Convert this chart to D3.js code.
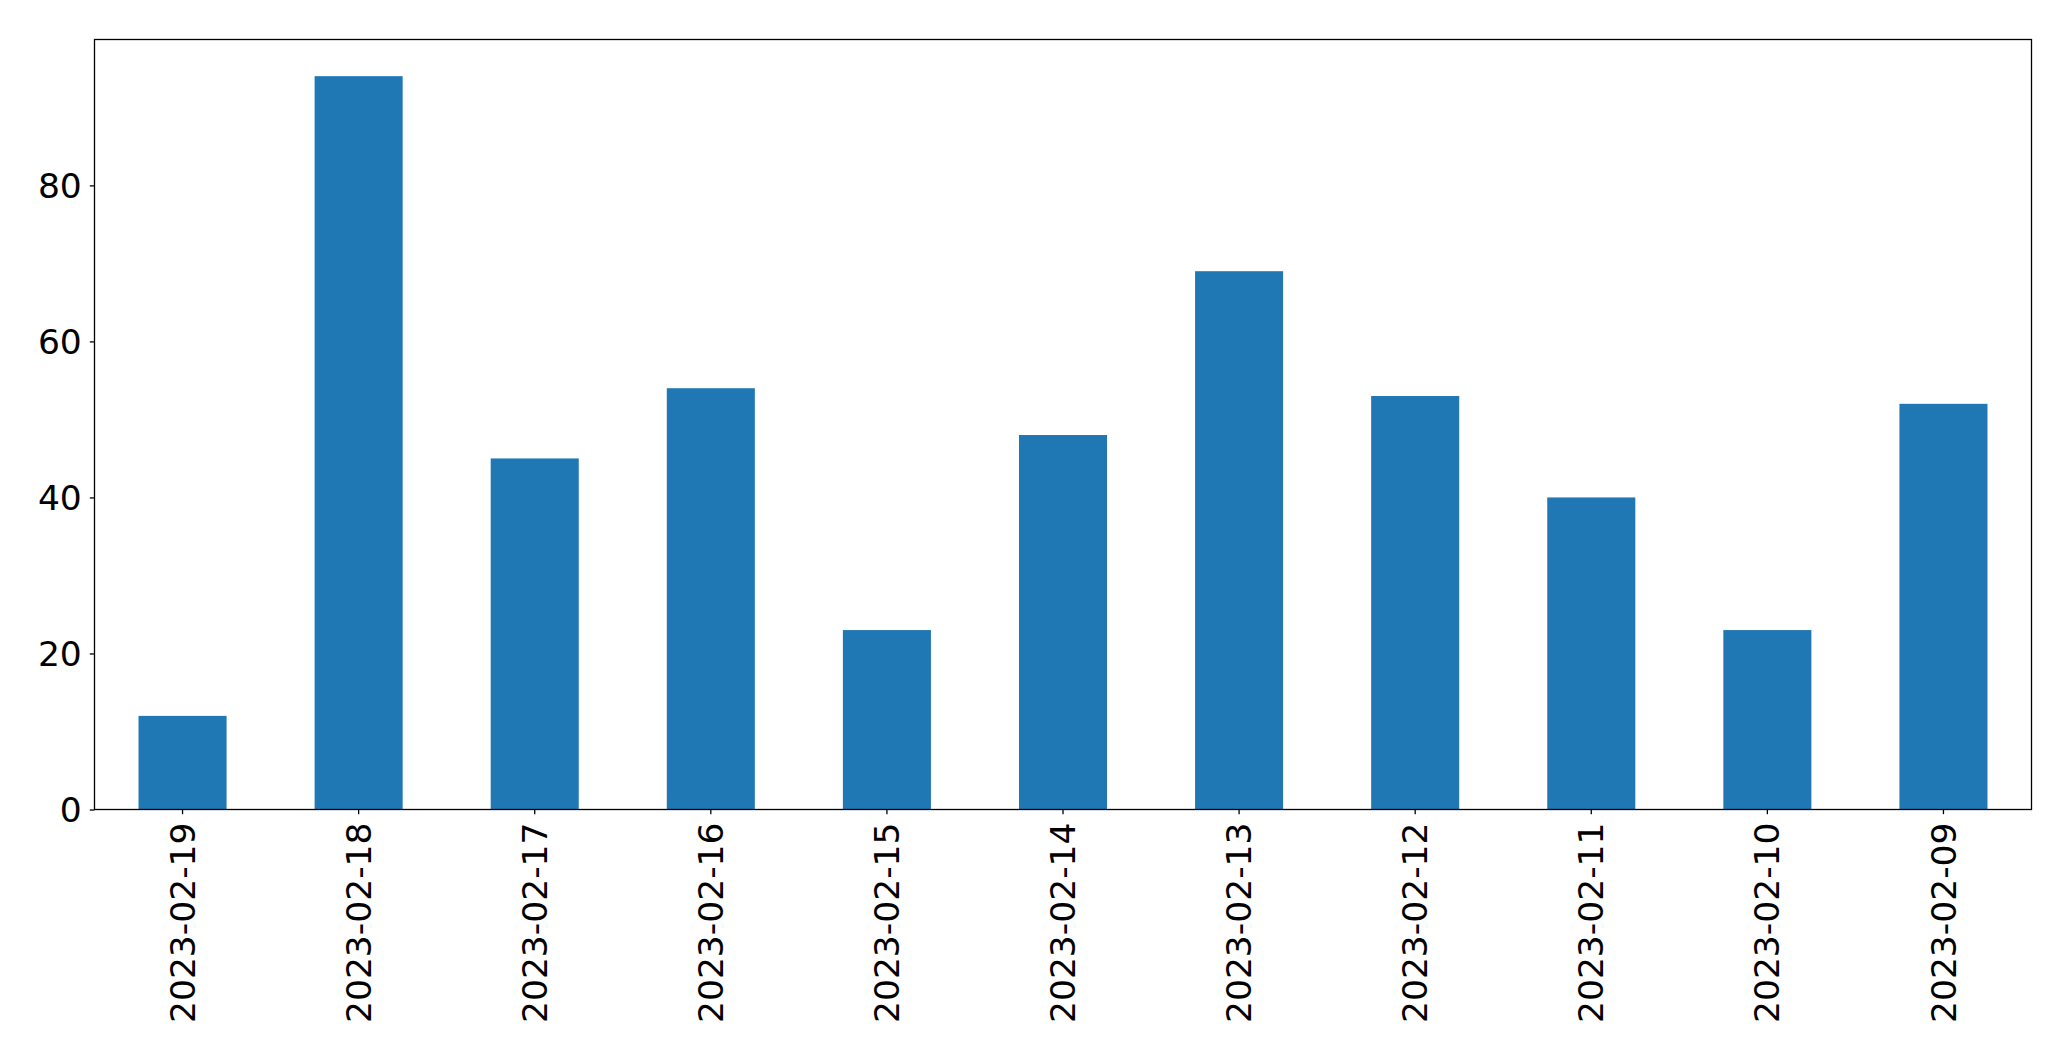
<!DOCTYPE html>
<html>
<head>
<meta charset="utf-8">
<script src="https://cdn.jsdelivr.net/npm/d3@7"></script>
<style>
  html, body { margin: 0; padding: 0; background: #fff; }
  svg { display: block; }
  text { font-family: "DejaVu Sans", sans-serif; fill: #000; }
</style>
</head>
<body>
<svg id="chart" width="2071" height="1061"></svg>
<script>
const categories = ["2023-02-19","2023-02-18","2023-02-17","2023-02-16","2023-02-15","2023-02-14","2023-02-13","2023-02-12","2023-02-11","2023-02-10","2023-02-09"];
const values = [12, 94, 45, 54, 23, 48, 69, 53, 40, 23, 52];
const yTicks = [0, 20, 40, 60, 80];

const W = 2071, H = 1061;
const m = { left: 94.5, top: 39.5, right: 2031.5, bottom: 809.5 };
const svg = d3.select("#chart");

const x = d3.scaleBand().domain(categories).range([m.left, m.right]).paddingInner(0.5).paddingOuter(0.25);
const yMax = d3.max(values) * 1.05;
const y = d3.scaleLinear().domain([0, yMax]).range([m.bottom, m.top]);

svg.append("g").selectAll("rect").data(values).join("rect")
  .attr("x", (d, i) => x(categories[i]))
  .attr("width", x.bandwidth())
  .attr("y", d => y(d))
  .attr("height", d => y(0) - y(d))
  .attr("fill", "#1f77b4");

const fs = 34.5;
const yAxis = svg.append("g").attr("transform", `translate(${m.left},0)`)
  .call(d3.axisLeft(y).tickValues(yTicks).tickSize(4.7).tickPadding(8));
yAxis.select(".domain").remove();
yAxis.selectAll("line").attr("stroke", "#000").attr("stroke-width", 1.3);
yAxis.selectAll("text").style("font-size", fs + "px").attr("dy", "0.35em");

const xAxis = svg.append("g").attr("transform", `translate(0,${m.bottom})`)
  .call(d3.axisBottom(x).tickSize(4.7).tickPadding(0));
xAxis.select(".domain").remove();
xAxis.selectAll("line").attr("stroke", "#000").attr("stroke-width", 1.3);
xAxis.selectAll("text")
  .style("font-size", fs + "px")
  .attr("text-anchor", "end")
  .attr("transform", "translate(0,13) rotate(-90)")
  .attr("x", 0).attr("y", 0).attr("dy", "0.35em");

svg.append("rect")
  .attr("x", m.left).attr("y", m.top)
  .attr("width", m.right - m.left).attr("height", m.bottom - m.top)
  .attr("fill", "none").attr("stroke", "#000").attr("stroke-width", 1.3);
</script>
</body>
</html>
